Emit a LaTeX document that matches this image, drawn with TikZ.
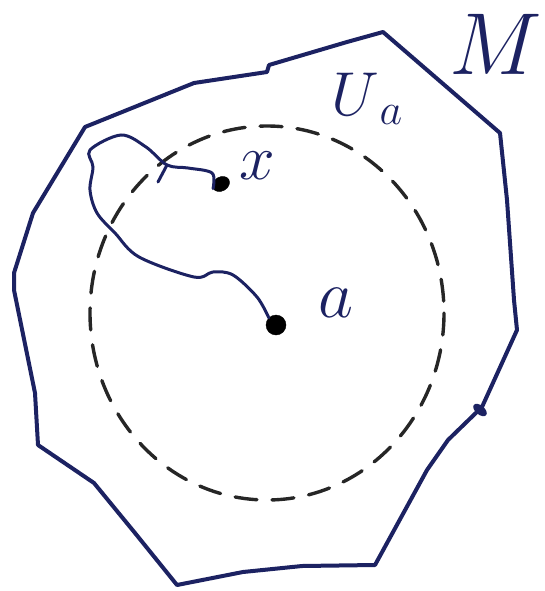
\RequirePackage{fix-cm}
\documentclass[tikz,border=0pt]{standalone}
\usepackage{tikz}
\usetikzlibrary{positioning, shapes.geometric}

\definecolor{ink}{RGB}{28,34,98}

\begin{document}
\begin{tikzpicture}[
      x=1pt, y=-1pt,
      rim/.style={draw=ink, line width=4pt, line join=round},
      nbhd/.style={draw=black!85, line width=3.4pt, dash pattern=on 22pt off 15pt, line cap=round},
      track/.style={draw=ink, line width=3pt, line cap=round},
      pt/.style={circle, fill=black, draw=black, inner sep=0pt, minimum size=16pt},
      lbl/.style={text=ink, inner sep=0pt}
    ]
    \useasboundingbox (0,0) rectangle (544,591);

    % the manifold M
    \draw[rim] (85,127) -- (194,83) -- (267,72) -- (269,65) -- (347,42) -- (383,32)
      -- (500,133) -- (507,200) -- (514,300) -- (517,330) -- (482,407) -- (448,440)
      -- (427,470) -- (375,565) -- (302,566) -- (243,572) -- (177,585) -- (135,533)
      -- (94,483) -- (38,445) -- (35,393) -- (14,290) -- (14,273) -- (33,213) -- cycle;
    \fill[ink, rotate around={-40:(480,410)}] (480,410) ellipse (8 and 4.5);

    % neighbourhood U_a
    \draw[nbhd] (267,313) ellipse (177 and 187);

    % points
    \node[pt, minimum size=20pt] (a) at (276,325) {};
    \node[pt, ellipse, minimum width=18pt, minimum height=14pt, rotate=30] (x) at (221,184) {};

    % path from a to x
    \draw[track] plot[smooth, tension=0.55] coordinates {(a.north west) (257,297) (233,275)
      (213,272) (194,277) (139,257) (115,233) (97,213) (90,190) (93,167) (90,150)
      (121,135) (146,147) (167,165) (188,168) (212,173) (x.west)};
    \draw[track] (167,165) -- (158,182);

    % labels
    \node[lbl, font=\fontsize{64}{64}\selectfont] (lx) at (257,166) {$x$};
    \node[lbl, font=\fontsize{68}{68}\selectfont] (la) at (336,303) {$a$};
    \node[lbl, font=\fontsize{62}{62}\selectfont] (lU) at (367,99)
      {$U$\raisebox{-9pt}{\fontsize{44}{44}\selectfont$a$}};
    \node[lbl, font=\fontsize{88}{88}\selectfont] (lM) at (496,44) {$M$};
\end{tikzpicture}
\end{document}
